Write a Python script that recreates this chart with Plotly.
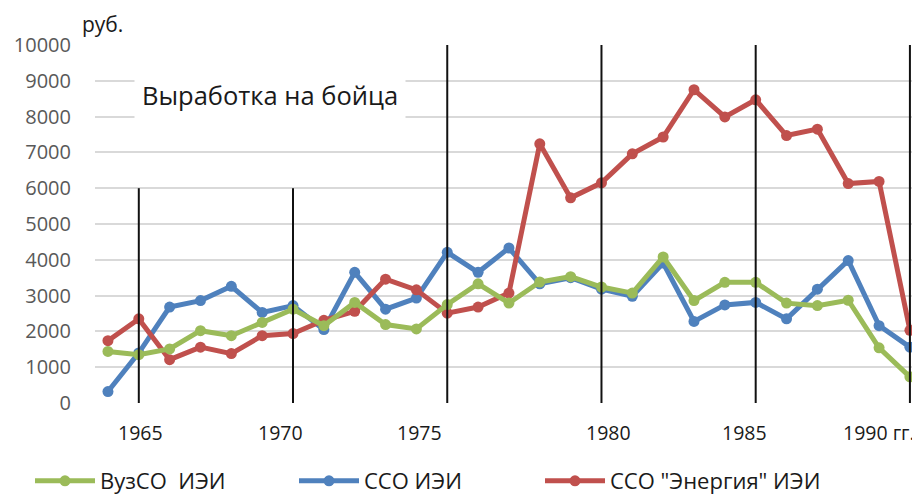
import plotly.graph_objects as go

years = list(range(1964, 1991))

vuzso = [1440, 1350, 1510, 2020, 1880, 2250, 2620, 2160, 2810, 2190, 2070, 2750,
         3330, 2790, 3380, 3530, 3240, 3070, 4080, 2860, 3370, 3370, 2790, 2720,
         2870, 1540, 730]
sso = [320, 1400, 2680, 2860, 3260, 2530, 2720, 2050, 3650, 2620, 2930, 4210,
       3650, 4330, 3330, 3500, 3180, 2980, 3910, 2280, 2740, 2810, 2350, 3180,
       3980, 2160, 1560]
energy = [1740, 2350, 1210, 1560, 1380, 1880, 1940, 2310, 2560, 3460, 3160, 2510,
          2680, 3070, 7240, 5730, 6150, 6960, 7430, 8750, 7990, 8470, 7470, 7650,
          6130, 6190, 2030]

series_names = ["ВузСО  ИЭИ", "ССО ИЭИ", "ССО \"Энергия\" ИЭИ"]
series_colors = ["#9BBB59", "#4F81BD", "#C0504D"]

short_lines = [1965, 1970]
long_lines = [1975, 1980, 1985, 1990]
short_top = 6000
long_top = 10000

tick_labels = ["1965", "1970", "1975", "1980", "1985", "1990 гг."]
tick_label_pos = [1965.04, 1969.58, 1974.11, 1980.24, 1984.65, 1989.0]

y_ticks = list(range(0, 10001, 1000))

FONT = "Open Sans"
# page body has an 8px margin; the figure sits at (8, 8) in the window
OFF = 8
W, H = 920 - OFF, 494 - OFF
L, R, T, B = 95 - OFF, 7, 45 - OFF, 91
PW, PH = W - L - R, H - T - B


def px(xp):
    return (xp - OFF - L) / PW


def py(yp):
    return (H - B - (yp - OFF)) / PH


legend_ids = ["legend", "legend2", "legend3"]
legend_x = [30, 294, 540]

fig = go.Figure()
data = [vuzso, sso, energy]
# draw order: blue, red, green (green on top)
for idx in [1, 2, 0]:
    fig.add_trace(go.Scatter(
        x=years, y=data[idx], name=series_names[idx], mode="lines+markers",
        line=dict(color=series_colors[idx], width=5),
        marker=dict(color=series_colors[idx], size=11),
        legend=legend_ids[idx],
    ))

for xv in short_lines:
    fig.add_shape(type="line", x0=xv, x1=xv, y0=0, y1=short_top, xref="x", yref="y",
                  line=dict(color="#111111", width=2))
for xv in long_lines:
    fig.add_shape(type="line", x0=xv, x1=xv, y0=0, y1=long_top, xref="x", yref="y",
                  line=dict(color="#111111", width=2))

for lbl, pos in zip(tick_labels, tick_label_pos):
    fig.add_annotation(x=pos, y=py(432), xref="x", yref="paper", text=lbl,
                       showarrow=False, xanchor="center", yanchor="middle",
                       font=dict(family=FONT, size=19.5, color="#1a1a1a"))

fig.add_annotation(x=px(270), y=py(95), xref="paper", yref="paper",
                   text="Выработка на бойца", showarrow=False,
                   xanchor="center", yanchor="middle",
                   font=dict(family=FONT, size=25.5, color="#1a1a1a"),
                   bgcolor="white", borderpad=7)

fig.add_annotation(x=px(102), y=py(24), xref="paper", yref="paper",
                   text="руб.", showarrow=False, xanchor="center", yanchor="middle",
                   font=dict(family=FONT, size=21, color="#1a1a1a"))

legend_common = dict(orientation="h", xanchor="left", y=py(481), yanchor="middle",
                     itemwidth=60, bgcolor="rgba(0,0,0,0)",
                     font=dict(family=FONT, size=22, color="#1a1a1a"))

fig.update_layout(
    width=W, height=H,
    margin=dict(l=L, r=R, t=T, b=B, autoexpand=False),
    paper_bgcolor="white", plot_bgcolor="white",
    font=dict(family=FONT),
    showlegend=True,
    legend=dict(x=px(legend_x[0]), **legend_common),
    legend2=dict(x=px(legend_x[1]), **legend_common),
    legend3=dict(x=px(legend_x[2]), **legend_common),
    xaxis=dict(range=[1963.58, 1990.1], showgrid=False, showticklabels=False,
               zeroline=False, showline=False, ticks="", automargin=False),
    yaxis=dict(range=[0, 10000], tickvals=y_ticks, tickformat="d", showgrid=True,
               gridcolor="#d9d9d9", gridwidth=1.5, zeroline=False, showline=False,
               ticks="", ticklabelstandoff=23, automargin=False,
               tickfont=dict(family=FONT, size=20, color="#595959")),
)

fig.write_html("out.html")
